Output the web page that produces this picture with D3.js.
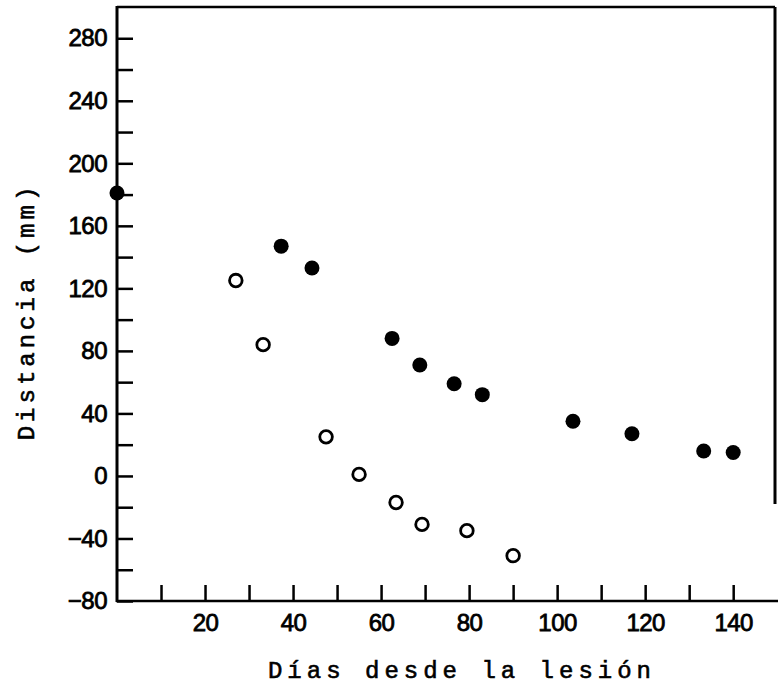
<!DOCTYPE html>
<html>
<head>
<meta charset="utf-8">
<script src="https://cdn.jsdelivr.net/npm/d3@7"></script>
<style>
  html, body { margin: 0; padding: 0; background: #fff; }
  svg { display: block; }
</style>
</head>
<body>
<script>
// Distance vs. days since the lesion: two groups of measurements
const filledDays = [0, 37.3, 44.3, 62.5, 68.8, 76.6, 83, 103.6, 117, 133.3, 140];
const filledDist = [181, 147, 133, 88, 71, 59, 52, 35, 27, 16, 15];
const openDays = [27, 33.2, 47.5, 55, 63.4, 69.3, 79.5, 90];
const openDist = [125, 84, 25, 1, -17, -31, -35, -51];

const xMinorTicks = d3.range(10, 150, 10);
const xTickLabels = [20, 40, 60, 80, 100, 120, 140];
const yMinorTicks = d3.range(-80, 300, 20);
const yTickLabels = [-80, -40, 0, 40, 80, 120, 160, 200, 240, 280];

const xTitle = "Días desde la lesión";
const yTitle = "Distancia (mm)";

const W = 778, H = 687;
const svg = d3.select("body").append("svg").attr("width", W).attr("height", H);
svg.append("rect").attr("width", W).attr("height", H).attr("fill", "#fff");

const x = d3.scaleLinear().domain([0, 149.5]).range([117, 775]);
const y = d3.scaleLinear().domain([-80, 300]).range([601, 7]);

const tickFont = "'Liberation Sans', Arial, sans-serif";
const titleFont = "'Liberation Mono', 'Courier New', monospace";

function styleTickText(sel) {
  sel.attr("fill", "#000")
    .attr("stroke", "#000")
    .attr("stroke-width", 0.8)
    .style("font-family", tickFont)
    .style("font-size", "24px")
    .style("letter-spacing", "-0.5px");
}

// frame: top and right borders
svg.append("line")
  .attr("x1", x(0)).attr("x2", x(149.5)).attr("y1", y(300)).attr("y2", y(300))
  .attr("stroke", "#000").attr("stroke-width", 2.5);
svg.append("line")
  .attr("x1", x(149.5)).attr("x2", x(149.5)).attr("y1", y(300)).attr("y2", y(-18))
  .attr("stroke", "#000").attr("stroke-width", 3);

// bottom axis: ticks inward every 10, labels every 20
const xAxis = svg.append("g").attr("transform", `translate(0,${y(-80)})`)
  .call(d3.axisBottom(x).tickValues(xMinorTicks).tickSize(-16).tickFormat(""));
xAxis.select(".domain").remove();
xAxis.selectAll(".tick line").attr("stroke", "#000").attr("stroke-width", 2.5);
svg.append("line")
  .attr("x1", x(0) - 1).attr("x2", W).attr("y1", y(-80)).attr("y2", y(-80))
  .attr("stroke", "#000").attr("stroke-width", 2.5);

const xLab = svg.append("g").attr("transform", `translate(0,${y(-80)})`)
  .call(d3.axisBottom(x).tickValues(xTickLabels).tickSize(0).tickPadding(13));
xLab.select(".domain").remove();
xLab.selectAll("text").call(styleTickText);

// left axis: ticks inward every 20, labels every 40
const yAxis = svg.append("g").attr("transform", `translate(${x(0)},0)`)
  .call(d3.axisRight(y).tickValues(yMinorTicks).tickSize(16).tickFormat(""));
yAxis.select(".domain").remove();
yAxis.selectAll(".tick line").attr("stroke", "#000").attr("stroke-width", 2.5);
svg.append("line")
  .attr("x1", x(0)).attr("x2", x(0)).attr("y1", y(300) - 1).attr("y2", y(-80) + 1)
  .attr("stroke", "#000").attr("stroke-width", 3);

const yLab = svg.append("g").attr("transform", `translate(${x(0)},0)`)
  .call(d3.axisLeft(y).tickValues(yTickLabels).tickSize(0).tickPadding(10));
yLab.select(".domain").remove();
yLab.selectAll("text").call(styleTickText);

// axis titles in a typewriter face
svg.append("text")
  .attr("x", 462).attr("y", 678)
  .attr("text-anchor", "middle")
  .attr("stroke", "#000").attr("stroke-width", 0.6)
  .style("font-family", titleFont)
  .style("font-size", "24px")
  .style("letter-spacing", "5px")
  .text(xTitle);

svg.append("text")
  .attr("transform", `translate(34,${(183 + 440) / 2}) rotate(-90)`)
  .attr("text-anchor", "middle")
  .attr("stroke", "#000").attr("stroke-width", 0.6)
  .style("font-family", titleFont)
  .style("font-size", "24px")
  .style("letter-spacing", "4px")
  .text(yTitle);

// data points
const filled = filledDays.map((d, i) => ({ day: d, dist: filledDist[i] }));
const open = openDays.map((d, i) => ({ day: d, dist: openDist[i] }));

svg.append("g").selectAll("circle").data(filled).join("circle")
  .attr("cx", d => x(d.day)).attr("cy", d => y(d.dist))
  .attr("r", 7.5).attr("fill", "#000");

svg.append("g").selectAll("circle").data(open).join("circle")
  .attr("cx", d => x(d.day)).attr("cy", d => y(d.dist))
  .attr("r", 6.3).attr("fill", "#fff")
  .attr("stroke", "#000").attr("stroke-width", 2.8);
</script>
</body>
</html>
